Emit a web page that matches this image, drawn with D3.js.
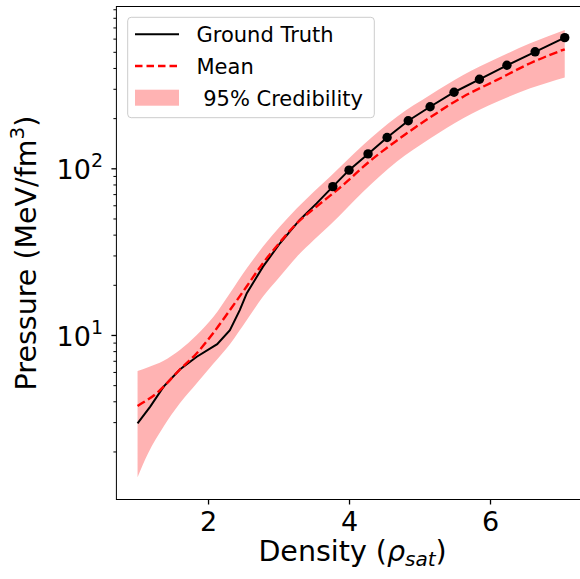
<!DOCTYPE html>
<html>
<head>
<meta charset="utf-8">
<script src="https://cdn.jsdelivr.net/npm/d3@7"></script>
<style>
  body { margin: 0; background: #fff; }
  svg { display: block; font-family: "DejaVu Sans", sans-serif; }
</style>
</head>
<body>
<div id="container"></div>
<script>
let w = 580;
let h = 579;

// ground truth EoS (black line)
let gtDensity  = [1.0, 1.18, 1.37, 1.6, 1.84, 2.13, 2.31, 2.45, 2.55, 2.78, 3.02, 3.30, 3.54, 3.77, 4.0, 4.27, 4.54, 4.84, 5.15, 5.49, 5.85, 6.24, 6.64, 7.06];
let gtPressure = [2.95, 3.72, 4.9, 6.2, 7.4, 8.8, 10.7, 14.1, 17.8, 25.7, 35.5, 49, 61.6, 77.6, 97.5, 122, 153, 193, 234, 286, 342, 415, 500, 608];

// black markers on the ground truth
let dotDensity  = [3.77, 4.0, 4.27, 4.54, 4.84, 5.15, 5.49, 5.85, 6.24, 6.64, 7.06];
let dotPressure = [77.6, 97.5, 122, 153, 193, 234, 286, 342, 415, 500, 608];

// posterior mean (red dashed)
let meanDensity  = [1.0, 1.27, 1.6, 1.84, 2.08, 2.31, 2.55, 2.78, 3.02, 3.26, 3.54, 3.76, 4.01, 4.2, 4.68, 5.15, 5.62, 6.1, 6.57, 7.06];
let meanPressure = [3.75, 4.47, 6.2, 7.77, 10.35, 14.1, 19.6, 27, 36, 46.8, 59, 70, 86, 102, 147, 202, 269, 339, 427, 518];

// 95% credibility band
let bandDensity = [1.0, 1.15, 1.37, 1.6, 1.84, 2.08, 2.31, 2.55, 2.78, 3.02, 3.26, 3.5, 3.73, 4.2, 4.68, 5.15, 5.62, 6.1, 6.57, 7.06];
let bandLower   = [1.40, 1.95, 2.82, 3.89, 5.13, 6.76, 8.81, 12.3, 17.0, 22.4, 29.5, 37.2, 45.7, 72.4, 110, 151, 200, 251, 302, 351];
let bandUpper   = [6.08, 6.4, 7.01, 8.13, 10.0, 12.9, 17.8, 25.1, 33.9, 44.7, 57.5, 72.4, 89.1, 138, 204, 275, 363, 457, 562, 676];

let xTicks = [2, 4, 6];
let yTicks = [10, 100];
let yExponents = ["1", "2"];

let viz = d3.select("#container")
  .append("svg")
    .attr("width", w)
    .attr("height", h)
    .style("background-color", "white");

let plotLeft = 116.4, plotRight = 588.7, plotTop = 6.5, plotBottom = 499.5;

let xScale = d3.scaleLinear().domain([0.7, 7.4]).range([plotLeft, plotRight]);
let yScale = d3.scaleLog().domain([1.03, 935]).range([plotBottom, plotTop]);

viz.append("clipPath").attr("id", "plotclip")
  .append("rect").attr("x", plotLeft).attr("y", plotTop)
  .attr("width", plotRight - plotLeft).attr("height", plotBottom - plotTop);

let plot = viz.append("g").attr("clip-path", "url(#plotclip)");

// band
let bandData = bandDensity.map((d, i) => ({x: d, lo: bandLower[i], hi: bandUpper[i]}));
let area = d3.area()
  .x(d => xScale(d.x))
  .y0(d => yScale(d.lo))
  .y1(d => yScale(d.hi))
  .curve(d3.curveMonotoneX);
plot.append("path").datum(bandData)
  .attr("d", area)
  .attr("fill", "#ffb3b3");

// ground truth
let gtData = gtDensity.map((d, i) => ({x: d, y: gtPressure[i]}));
let line = d3.line().x(d => xScale(d.x)).y(d => yScale(d.y));
plot.append("path").datum(gtData)
  .attr("d", line)
  .attr("fill", "none")
  .attr("stroke", "black")
  .attr("stroke-width", 2);

// mean
let meanData = meanDensity.map((d, i) => ({x: d, y: meanPressure[i]}));
let smoothLine = d3.line().x(d => xScale(d.x)).y(d => yScale(d.y)).curve(d3.curveMonotoneX);
plot.append("path").datum(meanData)
  .attr("d", smoothLine)
  .attr("fill", "none")
  .attr("stroke", "red")
  .attr("stroke-width", 2.4)
  .attr("stroke-dasharray", "8.5,3.7");

// markers
let dotData = dotDensity.map((d, i) => ({x: d, y: dotPressure[i]}));
viz.selectAll(".dot").data(dotData).enter()
  .append("circle")
    .attr("class", "dot")
    .attr("cx", d => xScale(d.x))
    .attr("cy", d => yScale(d.y))
    .attr("r", 4.7)
    .attr("fill", "black");

// frame
viz.append("rect")
  .attr("x", plotLeft).attr("y", plotTop)
  .attr("width", plotRight - plotLeft).attr("height", plotBottom - plotTop)
  .attr("fill", "none").attr("stroke", "black").attr("stroke-width", 1);

// x axis
let xAxisGroup = viz.append("g").attr("transform", "translate(0," + plotBottom + ")");
xAxisGroup.call(d3.axisBottom(xScale).tickValues(xTicks).tickSize(5).tickPadding(6).tickFormat(d3.format("d")));
xAxisGroup.select(".domain").remove();
xAxisGroup.selectAll("line").attr("stroke-width", 1.3);
xAxisGroup.selectAll("text")
  .attr("font-size", 27).attr("font-family", "DejaVu Sans").attr("fill", "black")
  .attr("dy", null).attr("y", 31);

// y axis minor ticks
let minors = [];
[1, 10, 100].forEach(dec => {
  for (let k = 2; k <= 9; k++) {
    let v = dec * k;
    if (v >= 1.03 && v <= 935) minors.push(v);
  }
});
let yMinorGroup = viz.append("g").attr("transform", "translate(" + plotLeft + ",0)");
yMinorGroup.call(d3.axisLeft(yScale).tickValues(minors).tickSize(3).tickFormat(""));
yMinorGroup.select(".domain").remove();
yMinorGroup.selectAll("line").attr("stroke-width", 1);

// y axis major ticks
let yAxisGroup = viz.append("g").attr("transform", "translate(" + plotLeft + ",0)");
yAxisGroup.call(d3.axisLeft(yScale).tickValues(yTicks).tickSize(5).tickFormat(""));
yAxisGroup.select(".domain").remove();
yAxisGroup.selectAll("line").attr("stroke-width", 1.3);
yTicks.forEach((v, i) => {
  let t = viz.append("text")
    .attr("x", 103).attr("y", yScale(v) + 11)
    .attr("text-anchor", "end")
    .attr("font-size", 27).attr("fill", "black");
  t.append("tspan").text("10");
  t.append("tspan").attr("font-size", 19).attr("dy", -12).text(yExponents[i]);
});

// axis labels
let xLabel = viz.append("text")
  .attr("x", (plotLeft + plotRight) / 2).attr("y", 561)
  .attr("text-anchor", "middle")
  .attr("font-size", 28.5).attr("fill", "black");
xLabel.append("tspan").text("Density (");
xLabel.append("tspan").attr("font-style", "italic").text("ρ");
xLabel.append("tspan").attr("font-style", "italic").attr("font-size", 20).attr("dy", 5).text("sat");
xLabel.append("tspan").attr("dy", -5).text(")");

let yLabel = viz.append("text")
  .attr("transform", "translate(36," + ((plotTop + plotBottom) / 2) + ") rotate(-90)")
  .attr("text-anchor", "middle")
  .attr("font-size", 28.5).attr("fill", "black");
yLabel.append("tspan").text("Pressure (MeV/fm");
yLabel.append("tspan").attr("font-size", 20).attr("dy", -12).text("3");
yLabel.append("tspan").attr("dy", 12).text(")");

// legend
let legend = viz.append("g");
legend.append("rect")
  .attr("x", 127.7).attr("y", 17.3).attr("width", 246.6).attr("height", 100.4)
  .attr("rx", 3.5)
  .attr("fill", "white").attr("fill-opacity", 0.8)
  .attr("stroke", "#cccccc").attr("stroke-width", 1);
let legendRows = [34.3, 66, 97.7];
legend.append("line")
  .attr("x1", 135).attr("x2", 179).attr("y1", legendRows[0]).attr("y2", legendRows[0])
  .attr("stroke", "black").attr("stroke-width", 2);
legend.append("line")
  .attr("x1", 135).attr("x2", 179).attr("y1", legendRows[1]).attr("y2", legendRows[1])
  .attr("stroke", "red").attr("stroke-width", 2.4).attr("stroke-dasharray", "7.5,4");
legend.append("rect")
  .attr("x", 135).attr("y", legendRows[2] - 8).attr("width", 44).attr("height", 16)
  .attr("fill", "#ffb3b3");
let legendLabels = ["Ground Truth", "Mean", "\u00a095% Credibility"];
legendLabels.forEach((s, i) => {
  legend.append("text")
    .attr("x", 196.5).attr("y", legendRows[i] + 8)
    .attr("font-size", 21).attr("fill", "black")
    .text(s);
});
</script>
</body>
</html>
